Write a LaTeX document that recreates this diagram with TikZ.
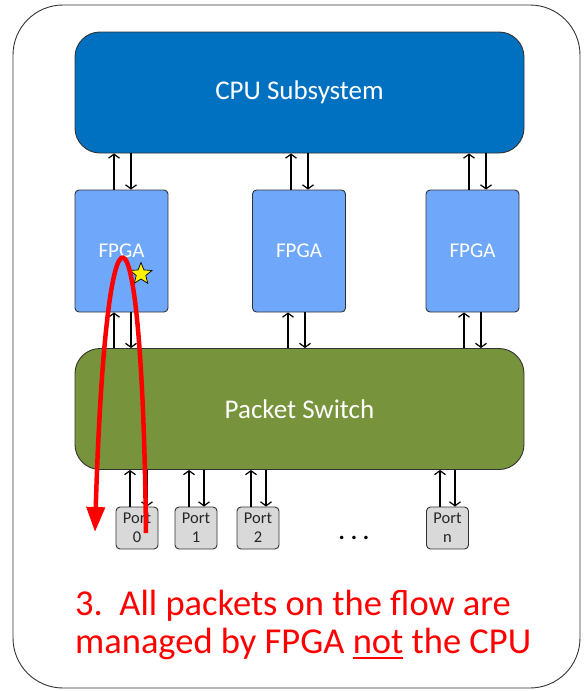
\documentclass[tikz,border=0pt]{standalone}
\usepackage{fontspec}
\setmainfont{Carlito}
\usetikzlibrary{arrows.meta,shapes.geometric}

\definecolor{cpublue}{RGB}{0,112,192}
\definecolor{fpgablue}{RGB}{111,168,250}
\definecolor{switchgreen}{RGB}{119,147,60}
\definecolor{portgray}{RGB}{217,217,217}
\definecolor{edgegray}{RGB}{50,50,50}
\definecolor{flowred}{RGB}{255,0,0}

% thick underline for emphasised words
\newcommand{\thickul}[1]{\setbox0\hbox{#1}\rlap{\rule[-6pt]{\wd0}{2pt}}\box0\relax}

\tikzset{
  bigblock/.style={draw=edgegray, line width=0.9pt, rounded corners=25pt,
    minimum width=449pt, minimum height=121pt, inner sep=0pt,
    text=white, font=\fontsize{27}{30}\selectfont},
  fpgabox/.style={draw=edgegray, line width=0.9pt, rounded corners=4pt,
    fill=fpgablue, minimum width=93pt, minimum height=122pt, inner sep=0pt,
    text=white, font=\fontsize{21}{24}\selectfont},
  portbox/.style={draw=edgegray, line width=0.9pt, rounded corners=4pt,
    fill=portgray, minimum width=42pt, minimum height=42pt, inner sep=0pt,
    align=center, text=black!85, font=\fontsize{16.5}{19}\selectfont},
  link/.style={line width=1.2pt, -{Straight Barb[length=4pt,width=11pt,line width=1.2pt]}},
  flow/.style={draw=flowred, line width=4.5pt,
    -{Triangle[length=25pt,width=18pt]}},
  caption/.style={anchor=base west, inner sep=0pt, text=flowred,
    font=\fontsize{36.5}{38}\selectfont}
}

\begin{document}
\begin{tikzpicture}[x=1pt,y=-1pt]
  \useasboundingbox (0,0) rectangle (584,691);

  % outer frame
  \draw[edgegray, line width=0.9pt, rounded corners=50pt] (13,5) rectangle (580,688);

  % main blocks
  \node[bigblock, fill=cpublue] (cpu) at (299.5,92.5) {CPU Subsystem};
  \node[bigblock, fill=switchgreen] (switch) at (299.5,409) {Packet Switch};

  \node[fpgabox] (fpga1) at (121.5,251) {FPGA};
  \node[fpgabox] (fpga2) at (299,251) {FPGA};
  \node[fpgabox] (fpga3) at (472.5,251) {FPGA};

  \node[portbox] (port0) at (137,528) {Port\\0};
  \node[portbox] (port1) at (196,528) {Port\\1};
  \node[portbox] (port2) at (258,528) {Port\\2};
  \node[portbox] (portn) at (447.5,528) {Port\\n};

  \node[anchor=base, inner sep=0pt, font=\fontsize{29}{30}\selectfont] (dots) at (354,539) {.\,.\,.};

  % CPU <-> FPGA links
  \draw[link] (114,0 |- fpga1.north) -- (114,0 |- cpu.south);
  \draw[link] (131,0 |- cpu.south) -- (131,0 |- fpga1.north);
  \draw[link] (291,0 |- fpga2.north) -- (291,0 |- cpu.south);
  \draw[link] (308,0 |- cpu.south) -- (308,0 |- fpga2.north);
  \draw[link] (469,0 |- fpga3.north) -- (469,0 |- cpu.south);
  \draw[link] (486,0 |- cpu.south) -- (486,0 |- fpga3.north);

  % FPGA <-> switch links
  \draw[link] (114,0 |- switch.north) -- (114,0 |- fpga1.south);
  \draw[link] (131,0 |- fpga1.south) -- (131,0 |- switch.north);
  \draw[link] (288,0 |- switch.north) -- (288,0 |- fpga2.south);
  \draw[link] (305,0 |- fpga2.south) -- (305,0 |- switch.north);
  \draw[link] (464,0 |- switch.north) -- (464,0 |- fpga3.south);
  \draw[link] (481,0 |- fpga3.south) -- (481,0 |- switch.north);

  % switch <-> port links
  \draw[link] (130,0 |- port0.north) -- (130,0 |- switch.south);
  \draw[link] (147,0 |- switch.south) -- (147,0 |- port0.north);
  \draw[link] (189,0 |- port1.north) -- (189,0 |- switch.south);
  \draw[link] (204,0 |- switch.south) -- (204,0 |- port1.north);
  \draw[link] (251,0 |- port2.north) -- (251,0 |- switch.south);
  \draw[link] (266,0 |- switch.south) -- (266,0 |- port2.north);
  \draw[link] (440,0 |- portn.north) -- (440,0 |- switch.south);
  \draw[link] (455,0 |- switch.south) -- (455,0 |- portn.north);

  % marker in the first FPGA
  \node[star, star points=5, star point ratio=2.3, draw=black, line width=0.7pt,
        fill=yellow, minimum size=23pt, inner sep=0pt] (mark) at (141,274) {};

  % packet flow turned around inside the first FPGA
  \coordinate (flowin) at (146,533);
  \coordinate (flowout) at (95,532);
  \draw[flow] (flowin) .. controls (142,170) and (106,170) .. (flowout);

  % caption
  \node[caption] (cap1) at (75,615) {3.\ \ All packets on the flow are};
  \node[caption] (cap2) at (75,653) {managed by FPGA \thickul{not} the CPU};
\end{tikzpicture}
\end{document}
